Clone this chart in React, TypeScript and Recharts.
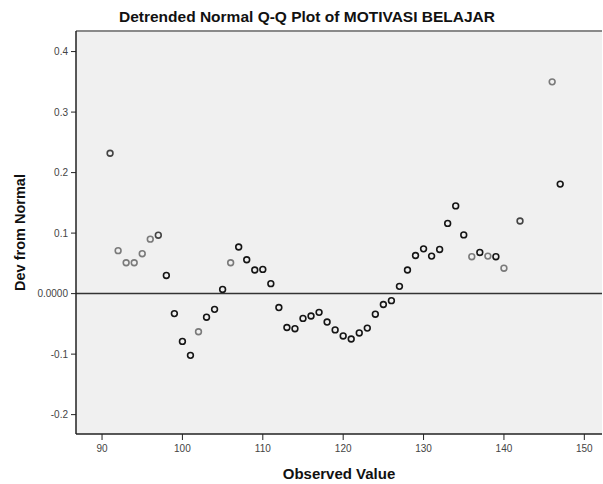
import React from "react";
import {
  ScatterChart,
  Scatter,
  XAxis,
  YAxis,
  CartesianGrid,
  ReferenceLine,
  Label,
} from "recharts";

document.body.style.margin = "0";

// observed values and detrended deviations, split by marker tone
const lightObs = [92, 93, 94, 95, 96, 102, 106, 136, 138, 140, 146];
const lightDev = [0.071, 0.051, 0.051, 0.066, 0.09, -0.063, 0.051, 0.061, 0.062, 0.042, 0.35];

const midObs = [91, 97, 142];
const midDev = [0.232, 0.0965, 0.12];

const darkObs = [
  98, 99, 100, 101, 103, 104, 105, 107, 108, 109, 110, 111, 112, 113, 114, 115,
  116, 117, 118, 119, 120, 121, 122, 123, 124, 125, 126, 127, 128, 129, 130,
  131, 132, 133, 134, 135, 137, 139, 147,
];
const darkDev = [
  0.03, -0.033, -0.079, -0.102, -0.039, -0.026, 0.007, 0.077, 0.056, 0.039,
  0.04, 0.0165, -0.023, -0.056, -0.058, -0.041, -0.037, -0.031, -0.047, -0.06,
  -0.07, -0.075, -0.065, -0.057, -0.034, -0.018, -0.0116, 0.012, 0.039, 0.063,
  0.074, 0.062, 0.073, 0.116, 0.145, 0.097, 0.068, 0.061, 0.181,
];

const xTicks = [90, 100, 110, 120, 130, 140, 150];
const yTicks = [-0.2, -0.1, 0, 0.1, 0.2, 0.3, 0.4];

const toPoints = (xs: number[], ys: number[]) => xs.map((x, i) => ({ x, y: ys[i] }));

const ring = (color: string) => (props: any) =>
  <circle cx={props.cx} cy={props.cy} r={2.9} fill="none" stroke={color} strokeWidth={1.6} />;

const font = "'Liberation Sans', Arial, sans-serif";
const Y_MAX = 0.434;

export default function App() {
  return (
    <div style={{ position: "relative", width: 603, height: 484, background: "#fff", fontFamily: font }}>
      <div
        style={{
          position: "absolute",
          top: 8,
          left: 0,
          width: 614,
          textAlign: "center",
          fontSize: 15.5,
          fontWeight: "bold",
          color: "#111",
        }}
      >
        Detrended Normal Q-Q Plot of MOTIVASI BELAJAR
      </div>
      <ScatterChart width={603} height={484} margin={{ top: 31, right: 1, bottom: 0, left: 0 }}>
        <CartesianGrid fill="#f0f0f0" horizontal={false} vertical={false} />
        <XAxis
          type="number"
          dataKey="x"
          domain={[86.76, 152.2]}
          ticks={xTicks}
          height={50}
          tickSize={6}
          tickMargin={5}
          tick={{ fontSize: 10, fill: "#444", fontFamily: font }}
          axisLine={{ stroke: "#222", strokeWidth: 1.5 }}
          tickLine={{ stroke: "#222" }}
        >
          <Label
            value="Observed Value"
            position="insideBottom"
            offset={5}
            style={{ fontSize: 15, fontWeight: "bold", fill: "#111", fontFamily: font }}
          />
        </XAxis>
        <YAxis
          type="number"
          dataKey="y"
          domain={[-0.232, Y_MAX]}
          ticks={yTicks}
          width={76}
          tickSize={5}
          tickMargin={3}
          tickFormatter={(v: number) => (v === 0 ? "0.0000" : v.toFixed(1))}
          tick={{ fontSize: 10, fill: "#444", fontFamily: font }}
          axisLine={{ stroke: "#222", strokeWidth: 1.5 }}
          tickLine={{ stroke: "#222" }}
        >
          <Label
            value="Dev from Normal"
            angle={-90}
            position="insideLeft"
            offset={20}
            style={{ textAnchor: "middle", fontSize: 14.5, fontWeight: "bold", fill: "#111", fontFamily: font }}
          />
        </YAxis>
        <ReferenceLine y={Y_MAX} stroke="#8a8a8a" strokeWidth={2} />
        <ReferenceLine y={0} stroke="#333" strokeWidth={1.5} />
        <Scatter data={toPoints(lightObs, lightDev)} shape={ring("#7a7a7a")} isAnimationActive={false} />
        <Scatter data={toPoints(midObs, midDev)} shape={ring("#444")} isAnimationActive={false} />
        <Scatter data={toPoints(darkObs, darkDev)} shape={ring("#151515")} isAnimationActive={false} />
      </ScatterChart>
    </div>
  );
}
